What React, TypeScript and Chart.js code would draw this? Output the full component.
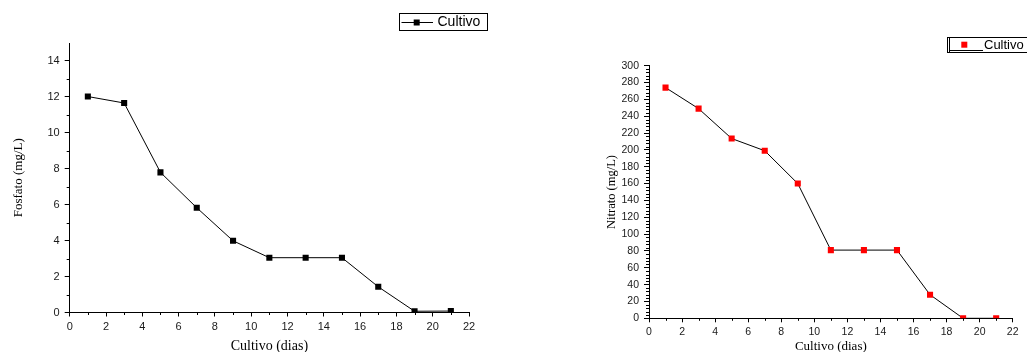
import { useEffect, useRef } from "react";
import { Chart, registerables } from "chart.js";

Chart.register(...registerables);

// ---- data ----
const dias = [1, 3, 5, 7, 9, 11, 13, 15, 17, 19, 21];
const fosfato = [12.02, 11.66, 7.8, 5.83, 3.99, 3.05, 3.05, 3.05, 1.43, 0.07, 0.08];
const nitrato = [274, 249, 213.5, 199, 160, 81, 81, 81, 28, 0, 0];

const xTicks = [0, 2, 4, 6, 8, 10, 12, 14, 16, 18, 20, 22];
const xMinorTicks = [1, 3, 5, 7, 9, 11, 13, 15, 17, 19, 21];
const fosfatoTicks = [0, 2, 4, 6, 8, 10, 12, 14];
const fosfatoMinorTicks = [1, 3, 5, 7, 9, 11, 13];
const nitratoTicks = [0, 20, 40, 60, 80, 100, 120, 140, 160, 180, 200, 220, 240, 260, 280, 300];
const nitratoMinorStep = 4;

const serieLabel = "Cultivo";
const xTitle = "Cultivo (dias)";
const fosfatoTitle = "Fosfato (mg/L)";
const nitratoTitle = "Nitrato (mg/L)";

const SANS = "'Liberation Sans', Arial, sans-serif";
const SERIF = "'Liberation Serif', 'Times New Roman', serif";

const minorTicksPlugin = {
  id: "minorTicks",
  afterDraw(chart: any, _args: any, opts: any) {
    const ctx = chart.ctx;
    const xs = chart.scales.x;
    const ys = chart.scales.y;
    const area = chart.chartArea;
    ctx.save();
    ctx.strokeStyle = "#000";
    ctx.lineWidth = 1;
    ctx.beginPath();
    for (const v of opts.xMinor || []) {
      const px = Math.round(xs.getPixelForValue(v)) + 0.5;
      ctx.moveTo(px, area.bottom);
      ctx.lineTo(px, area.bottom + opts.xLen);
    }
    const yMinor: number[] = [];
    if (opts.yMinor) yMinor.push(...opts.yMinor);
    if (opts.yStep) {
      for (let v = ys.min; v <= ys.max + 1e-9; v += opts.yStep) {
        if (!opts.yMajor.includes(v)) yMinor.push(v);
      }
    }
    for (const v of yMinor) {
      const py = Math.round(ys.getPixelForValue(v)) + 0.5;
      ctx.moveTo(area.left, py);
      ctx.lineTo(area.left - opts.yLen, py);
    }
    ctx.stroke();
    ctx.restore();
  },
};

const legendBoxPlugin = {
  id: "legendBox",
  afterDraw(chart: any, _args: any, o: any) {
    const ctx = chart.ctx;
    const ds = chart.data.datasets[0];
    ctx.save();
    ctx.strokeStyle = "#000";
    ctx.lineWidth = 1;
    ctx.strokeRect(o.box[0] + 0.5, o.box[1] + 0.5, o.box[2], o.box[3]);
    if (o.double) {
      ctx.beginPath();
      ctx.moveTo(o.box[0] + 2.5, o.box[1] + 1);
      ctx.lineTo(o.box[0] + 2.5, o.box[1] + o.box[3]);
      ctx.stroke();
    }
    ctx.beginPath();
    ctx.moveTo(o.line[0], o.line[2]);
    ctx.lineTo(o.line[1], o.line[2]);
    ctx.strokeStyle = ds.borderColor;
    ctx.stroke();
    ctx.fillStyle = ds.pointBackgroundColor;
    const s = o.marker[2];
    ctx.fillRect(o.marker[0] - s / 2, o.marker[1] - s / 2, s, s);
    ctx.fillStyle = "#000";
    ctx.font = `${o.fontSize}px ${SANS}`;
    ctx.textBaseline = "middle";
    ctx.textAlign = "left";
    ctx.fillText(ds.label, o.text[0], o.text[1]);
    ctx.restore();
  },
};

function makeConfig(p: {
  width: number;
  height: number;
  left: number;
  right: number;
  top: number;
  bottom: number;
  values: number[];
  color: string;
  yMax: number;
  yTicks: number[];
  yTitle: string;
  yTitleSize: number;
  yTitlePad: number;
  xTitleSize: number;
  tickSize: number;
  minor: any;
  legend: any;
}): any {
  return {
    type: "line",
    data: {
      datasets: [
        {
          label: serieLabel,
          data: dias.map((d, i) => ({ x: d, y: p.values[i] })),
          borderColor: "#000",
          borderWidth: 1,
          pointStyle: "rect",
          pointRadius: 4.3,
          pointHoverRadius: 4.3,
          pointBackgroundColor: p.color,
          pointBorderColor: p.color,
          pointBorderWidth: 0,
          tension: 0,
        },
      ],
    },
    options: {
      responsive: false,
      animation: false,
      events: [],
      layout: { padding: { left: 0, top: p.top, right: p.width - p.right, bottom: 0 } },
      plugins: {
        legend: { display: false },
        tooltip: { enabled: false },
        minorTicks: p.minor,
        legendBox: p.legend,
      },
      scales: {
        x: {
          type: "linear",
          position: "bottom",
          min: 0,
          max: 22,
          afterBuildTicks: (s: any) => {
            s.ticks = xTicks.map((v) => ({ value: v }));
          },
          afterFit: (s: any) => {
            s.height = p.height - p.bottom;
          },
          grid: {
            display: true,
            drawOnChartArea: false,
            drawTicks: true,
            tickLength: 4,
            tickColor: "#000",
          },
          border: { display: true, color: "#000", width: 1 },
          ticks: {
            color: "#1a1a1a",
            font: { family: SANS, size: p.tickSize },
            padding: 4,
            maxRotation: 0,
            autoSkip: false,
          },
          title: {
            display: true,
            text: xTitle,
            color: "#000",
            font: { family: SERIF, size: p.xTitleSize, lineHeight: 1 },
            padding: { top: 0, bottom: -1 },
          },
        },
        y: {
          type: "linear",
          position: "left",
          min: 0,
          max: p.yMax,
          afterBuildTicks: (s: any) => {
            s.ticks = p.yTicks.map((v) => ({ value: v }));
          },
          afterFit: (s: any) => {
            s.width = p.left;
          },
          grid: {
            display: true,
            drawOnChartArea: false,
            drawTicks: true,
            tickLength: 5,
            tickColor: "#000",
          },
          border: { display: true, color: "#000", width: 1 },
          ticks: {
            color: "#1a1a1a",
            font: { family: SANS, size: p.tickSize },
            padding: 5,
            autoSkip: false,
          },
          title: {
            display: true,
            text: p.yTitle,
            color: "#000",
            font: { family: SERIF, size: p.yTitleSize, lineHeight: 1.2 },
            padding: { top: p.yTitlePad, bottom: 0 },
          },
        },
      },
    },
    plugins: [minorTicksPlugin, legendBoxPlugin],
  };
}

function ChartCanvas({ width, height, left, config }: { width: number; height: number; left: number; config: any }) {
  const ref = useRef<HTMLCanvasElement | null>(null);
  useEffect(() => {
    if (!ref.current) return;
    const chart = new Chart(ref.current, config);
    return () => chart.destroy();
  }, []);
  return (
    <canvas
      ref={ref}
      width={width}
      height={height}
      style={{ position: "absolute", left, top: 0, width, height, display: "block" }}
    />
  );
}

export default function App() {
  const leftCfg = makeConfig({
    width: 520,
    height: 352,
    left: 69.7,
    right: 469,
    top: 43,
    bottom: 312.5,
    values: fosfato,
    color: "#000",
    yMax: 15,
    yTicks: fosfatoTicks,
    yTitle: fosfatoTitle,
    yTitleSize: 13,
    yTitlePad: 10.5,
    xTitleSize: 14,
    tickSize: 11,
    minor: { xMinor: xMinorTicks, xLen: 2.5, yMinor: fosfatoMinorTicks, yLen: 3 },
    legend: {
      box: [399, 13, 88, 17],
      line: [401.5, 433, 22.5],
      marker: [416.7, 22.5, 6],
      text: [437.5, 22.5],
      fontSize: 14,
    },
  });
  const rightCfg = makeConfig({
    width: 507,
    height: 352,
    left: 129,
    right: 492.7,
    top: 65.7,
    bottom: 318.3,
    values: nitrato,
    color: "#ff0000",
    yMax: 300,
    yTicks: nitratoTicks,
    yTitle: nitratoTitle,
    yTitleSize: 12.5,
    yTitlePad: 84,
    xTitleSize: 13,
    tickSize: 10.5,
    minor: { xMinor: xMinorTicks, xLen: 2.5, yMajor: nitratoTicks, yStep: nitratoMinorStep, yLen: 3 },
    legend: {
      box: [427, 37, 90, 15],
      line: [430, 463, 50.5],
      marker: [444.3, 44.7, 6],
      text: [464, 45],
      fontSize: 13,
      double: true,
    },
  });
  return (
    <div style={{ position: "absolute", left: 0, top: 0, width: 1027, height: 352, overflow: "hidden", background: "#fff" }}>
      <ChartCanvas width={520} height={352} left={0} config={leftCfg} />
      <ChartCanvas width={507} height={352} left={520} config={rightCfg} />
    </div>
  );
}
